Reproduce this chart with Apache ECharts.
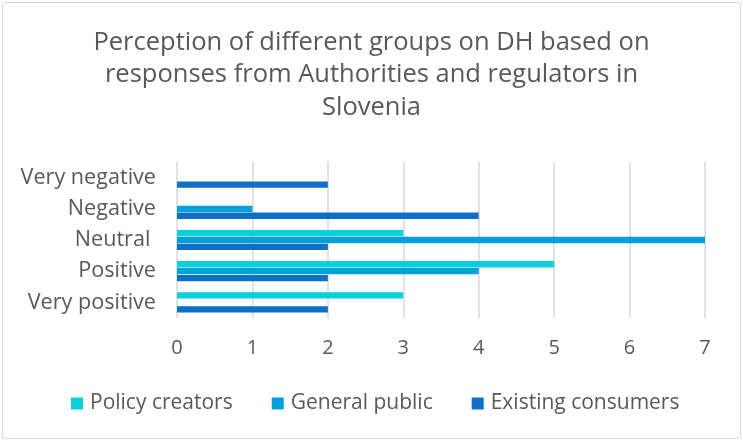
<!DOCTYPE html>
<html>
<head>
<meta charset="utf-8">
<script src="https://cdn.jsdelivr.net/npm/echarts@6/dist/echarts.min.js"></script>
<style>
  html, body { margin: 0; padding: 0; background: #fff; }
  #chart { position: absolute; left: 2px; top: 2px; width: 739px; height: 437px;
           border: 1px solid #d9d9d9; box-sizing: border-box; border-radius: 3px; }
</style>
</head>
<body>
<div id="chart"></div>
<script>
const titleText = 'Perception of different groups on DH based on\nresponses from Authorities and regulators in\nSlovenia';
const categories = ['Very negative', 'Negative', 'Neutral ', 'Positive', 'Very positive'];
const seriesNames = ['Policy creators', 'General public', 'Existing consumers'];
const policyCreators = [0, 0, 3, 5, 3];
const generalPublic = [0, 1, 7, 4, 0];
const existingConsumers = [2, 4, 2, 2, 2];
const xTicks = { min: 0, max: 7, interval: 1 };

const colors = ['#0bcfda', '#04a0d9', '#0e6fc6'];
const textColor = '#595959';
const font = '"Open Sans", sans-serif';

const chart = echarts.init(document.getElementById('chart'), null, { renderer: 'canvas' });

const seriesData = [policyCreators, generalPublic, existingConsumers];

chart.setOption({
  animation: false,
  color: colors,
  title: {
    text: titleText,
    left: 'center',
    top: 18,
    textStyle: { color: textColor, fontFamily: font, fontSize: 25.5, fontWeight: 'normal', lineHeight: 32.5 }
  },
  legend: {
    data: seriesNames,
    bottom: 19,
    left: 63,
    icon: 'rect',
    itemWidth: 12,
    itemHeight: 12,
    itemGap: 39,
    textStyle: { color: textColor, fontFamily: font, fontSize: 21, padding: [0, 0, 0, 2] }
  },
  grid: { left: 174, right: 35, top: 159, bottom: 120, containLabel: false },
  xAxis: {
    type: 'value',
    min: xTicks.min,
    max: xTicks.max,
    interval: xTicks.interval,
    axisLine: { show: false },
    axisTick: { show: false },
    axisLabel: { color: textColor, fontFamily: font, fontSize: 20, margin: 20 },
    splitLine: { lineStyle: { color: '#d9d9d9', width: 1.5 } }
  },
  yAxis: {
    type: 'category',
    data: categories,
    inverse: true,
    axisLine: { show: false },
    axisTick: { show: false },
    axisLabel: { color: textColor, fontFamily: font, fontSize: 21.6, margin: 21 }
  },
  series: seriesNames.map((name, i) => ({
    name: name,
    type: 'bar',
    data: seriesData[i],
    barWidth: 6.3,
    barGap: '10%',
    itemStyle: { color: colors[i] }
  }))
});
</script>
</body>
</html>
